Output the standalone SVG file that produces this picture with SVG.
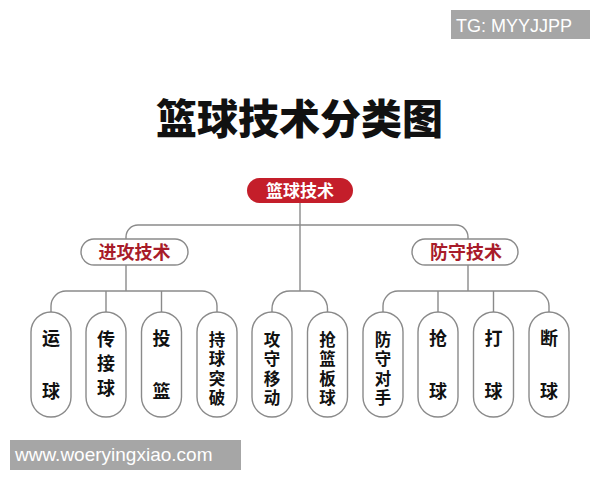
<svg xmlns="http://www.w3.org/2000/svg" width="600" height="480" viewBox="0 0 600 480">
<style>
.cjk{font-family:"Noto Sans CJK SC","Noto Sans",sans-serif;font-weight:bold}
.title{font-size:41px;font-weight:900;fill:#111}
.root-box{fill:#c41e2a}
.root-txt{font-size:17px;fill:#fff;text-anchor:middle}
.sub-box{fill:#fff;stroke:#8a8a8a;stroke-width:1.4}
.sub-txt{font-size:18px;fill:#a81c2a;text-anchor:middle}
.leaf-box{fill:#fff;stroke:#8a8a8a;stroke-width:1.4}
.leaf-txt{font-size:18px;fill:#111;text-anchor:middle}
.leaf-txt4{font-size:16.5px}
.conn{fill:none;stroke:#8a8a8a;stroke-width:1.4}
.wm-box{fill:#a6a6a6}
.wm-txt{font-family:"Liberation Sans",Arial,sans-serif;fill:#fff}
</style>
<rect width="600" height="480" fill="#fff"/>

<g id="watermark-tg">
<rect class="wm-box" x="451" y="10" width="139" height="29"/>
<text class="wm-txt" x="456" y="32" font-size="18">TG: MYYJJPP</text>
</g>

<g id="title">
<text class="cjk title" x="299.5" y="134" text-anchor="middle">篮球技术分类图</text>
</g>

<g id="connectors">
<path class="conn" d="M300,203 V291"/>
<path class="conn" d="M126,239 V237 A12,12 0 0 1 138,225 H456 A12,12 0 0 1 468,237 V239"/>
<path class="conn" d="M126,265 V291"/>
<path class="conn" d="M468,265 V291"/>
<path class="conn" d="M51,312 V306 A15,15 0 0 1 66,291 H202 A15,15 0 0 1 217,306 V312"/>
<path class="conn" d="M106,291 V312 M161.5,291 V312"/>
<path class="conn" d="M272,312 V309 A18,18 0 0 1 290,291 H309.5 A18,18 0 0 1 327.5,309 V312"/>
<path class="conn" d="M383,312 V306 A15,15 0 0 1 398,291 H534 A15,15 0 0 1 549,306 V312"/>
<path class="conn" d="M438,291 V312 M493.5,291 V312"/>
</g>

<g id="root">
<rect class="root-box" x="247" y="178" width="106" height="25" rx="12.5"/>
<text class="cjk root-txt" x="300" y="196.5">篮球技术</text>
</g>

<g id="offense">
<rect class="sub-box" x="81" y="239" width="107" height="26" rx="13"/>
<text class="cjk sub-txt" x="134.5" y="259">进攻技术</text>
</g>

<g id="defense">
<rect class="sub-box" x="412" y="239" width="106" height="26" rx="13"/>
<text class="cjk sub-txt" x="466" y="259">防守技术</text>
</g>

<g id="leaf-dribble">
<rect class="leaf-box" x="31" y="312" width="40" height="105" rx="20"/>
<text class="cjk leaf-txt"><tspan x="51" y="345">运</tspan><tspan x="51" y="398">球</tspan></text>
</g>
<g id="leaf-pass">
<rect class="leaf-box" x="86" y="312" width="40" height="105" rx="20"/>
<text class="cjk leaf-txt"><tspan x="106" y="345.5">传</tspan><tspan x="106" y="370">接</tspan><tspan x="106" y="394.5">球</tspan></text>
</g>
<g id="leaf-shoot">
<rect class="leaf-box" x="141.5" y="312" width="40" height="105" rx="20"/>
<text class="cjk leaf-txt"><tspan x="161.5" y="345">投</tspan><tspan x="161.5" y="398">篮</tspan></text>
</g>
<g id="leaf-drive">
<rect class="leaf-box" x="197" y="312" width="40" height="105" rx="20"/>
<text class="cjk leaf-txt leaf-txt4"><tspan x="217" y="346">持</tspan><tspan x="217" y="365.3">球</tspan><tspan x="217" y="384.6">突</tspan><tspan x="217" y="404">破</tspan></text>
</g>
<g id="leaf-move">
<rect class="leaf-box" x="252" y="312" width="40" height="105" rx="20"/>
<text class="cjk leaf-txt leaf-txt4"><tspan x="272" y="346">攻</tspan><tspan x="272" y="365.3">守</tspan><tspan x="272" y="384.6">移</tspan><tspan x="272" y="404">动</tspan></text>
</g>
<g id="leaf-rebound">
<rect class="leaf-box" x="307.5" y="312" width="40" height="105" rx="20"/>
<text class="cjk leaf-txt leaf-txt4"><tspan x="327.5" y="346">抢</tspan><tspan x="327.5" y="365.3">篮</tspan><tspan x="327.5" y="384.6">板</tspan><tspan x="327.5" y="404">球</tspan></text>
</g>
<g id="leaf-guard">
<rect class="leaf-box" x="363" y="312" width="40" height="105" rx="20"/>
<text class="cjk leaf-txt leaf-txt4"><tspan x="383" y="346">防</tspan><tspan x="383" y="365.3">守</tspan><tspan x="383" y="384.6">对</tspan><tspan x="383" y="404">手</tspan></text>
</g>
<g id="leaf-steal">
<rect class="leaf-box" x="418" y="312" width="40" height="105" rx="20"/>
<text class="cjk leaf-txt"><tspan x="438" y="345">抢</tspan><tspan x="438" y="398">球</tspan></text>
</g>
<g id="leaf-strip">
<rect class="leaf-box" x="473.5" y="312" width="40" height="105" rx="20"/>
<text class="cjk leaf-txt"><tspan x="493.5" y="345">打</tspan><tspan x="493.5" y="398">球</tspan></text>
</g>
<g id="leaf-intercept">
<rect class="leaf-box" x="529" y="312" width="40" height="105" rx="20"/>
<text class="cjk leaf-txt"><tspan x="549" y="345">断</tspan><tspan x="549" y="398">球</tspan></text>
</g>

<g id="watermark-web">
<rect class="wm-box" x="10" y="440" width="231" height="30"/>
<text class="wm-txt" x="15" y="461" font-size="19">www.woeryingxiao.com</text>
</g>
</svg>
